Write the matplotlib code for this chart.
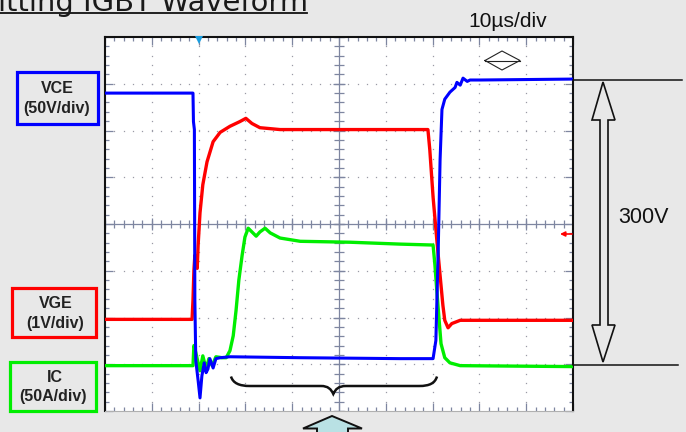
import numpy as np
import matplotlib
matplotlib.use('Agg')
import matplotlib.pyplot as plt
from matplotlib.patches import Polygon, Rectangle, PathPatch
from matplotlib.path import Path

# ---- data: time in µs (10 µs/div), trace position in screen divisions (0 = centre) ----
vce_t = [0, 18.8, 18.9, 19.1, 19.2, 19.4, 19.9, 20.3, 20.7, 21.2, 21.6, 22.0, 22.4, 23.1,
         23.7, 24.6, 26.7, 41.7, 63.0, 70.1, 70.7, 71.2, 71.6, 72.0, 72.6, 73.7, 74.8,
         75.2, 75.9, 76.5, 77.4, 78.0, 80.1, 100]
vce_y = [2.80, 2.80, 2.19, 2.02, -1.63, -2.92, -3.35, -3.72, -3.25, -2.97, -3.18, -3.10,
         -2.88, -3.08, -2.88, -2.86, -2.84, -2.86, -2.88, -2.88, -2.49, -0.56, 1.38, 2.45,
         2.67, 2.82, 2.92, 3.03, 2.97, 3.12, 3.05, 3.08, 3.08, 3.10]

vge_t = [0, 18.6, 18.8, 19.0, 19.2, 19.4, 19.7, 19.9, 20.3, 20.9, 21.8, 23.1, 24.6, 26.7,
         28.8, 30.1, 31.4, 33.1, 37.4, 69.0, 69.4, 70.1, 70.9, 71.6, 72.2, 72.6, 73.3,
         74.1, 75.9, 100]
vge_y = [-2.04, -2.04, -1.63, -0.99, -0.67, -0.82, -0.95, -0.45, 0.24, 0.84, 1.33, 1.76,
         1.96, 2.09, 2.19, 2.26, 2.15, 2.06, 2.02, 2.02, 1.59, 0.58, -0.34, -1.10, -1.74,
         -2.06, -2.22, -2.13, -2.06, -2.06]

ic_t = [0, 18.8, 19.0, 19.4, 19.9, 20.3, 20.9, 21.6, 22.2, 22.9, 23.7, 25.0, 25.9, 26.7,
        27.4, 28.0, 28.6, 29.3, 29.9, 30.6, 31.4, 32.3, 33.1, 34.2, 35.3, 37.4, 41.7, 52.4,
        63.0, 70.1, 70.5, 70.9, 71.4, 71.8, 72.6, 73.7, 75.9, 100]
ic_y = [-3.03, -3.03, -2.60, -2.75, -2.97, -3.14, -2.82, -3.10, -2.88, -3.03, -2.84, -2.86,
        -2.86, -2.71, -2.39, -1.85, -1.20, -0.67, -0.28, -0.09, -0.17, -0.26, -0.17, -0.09,
        -0.19, -0.30, -0.37, -0.39, -0.43, -0.45, -0.88, -1.42, -2.06, -2.56, -2.86, -2.97,
        -3.03, -3.05]

title_text = "itting IGBT Waveform"
timebase_text = "10µs/div"
span_text = "300V"
labels = [("VCE", "(50V/div)"), ("VGE", "(1V/div)"), ("IC", "(50A/div)")]

# ---- figure ----
W, H = 686, 432
BG = '#e8e8e8'
fig = plt.figure(figsize=(W / 100, H / 100), dpi=100, facecolor=BG)
L, R, T, B = 105, 573, 37, 411
ax = fig.add_axes([L / W, 1 - B / H, (R - L) / W, (B - T) / H])
ax.set_facecolor('white')
ax.set_xlim(0, 100)
ax.set_ylim(-4, 4)

gc = '#7e86a0'
# dotted graticule
dots = np.arange(-4, 4.001, 0.2)
hdots = np.arange(0, 100.001, 2)
for xv in range(10, 100, 10):
    if xv != 50:
        ax.plot([xv] * len(dots), dots, ls='none', marker='s', ms=0.9, mew=0,
                color='#9a9aa6', zorder=1)
for yv in range(-3, 4):
    if yv != 0:
        ax.plot(hdots, [yv] * len(hdots), ls='none', marker='s', ms=0.9, mew=0,
                color='#9a9aa6', zorder=1)
# centre cross with ticks
ax.axhline(0, color=gc, lw=0.9, zorder=1)
ax.axvline(50, color=gc, lw=0.9, zorder=1)
ax.plot(hdots, np.zeros_like(hdots), ls='none', marker='|', ms=5.5, mew=0.9, color=gc, zorder=1)
ax.plot(np.arange(0, 101, 10), np.zeros(11), ls='none', marker='|', ms=9, mew=0.9, color=gc, zorder=1)
ax.plot(np.full_like(dots, 50), dots, ls='none', marker='_', ms=7, mew=0.9, color=gc, zorder=1)
ax.plot(np.full(9, 50), np.arange(-4, 5, 1), ls='none', marker='_', ms=9, mew=0.9, color=gc, zorder=1)

# edge ticks
ax.set_xticks(np.arange(0, 101, 10))
ax.set_xticks(np.arange(0, 101, 2), minor=True)
ax.set_yticks(np.arange(-4, 5, 1))
ax.set_yticks(np.arange(-4, 4.001, 0.2), minor=True)
ax.tick_params(which='both', direction='in', top=True, bottom=True, left=True, right=True,
               labelbottom=False, labelleft=False, color=gc, width=0.9)
ax.tick_params(which='major', length=6)
ax.tick_params(which='minor', length=3)
for s in ('left', 'top', 'right'):
    ax.spines[s].set_color('#111111')
    ax.spines[s].set_linewidth(1.5)
ax.spines['bottom'].set_color('#b0b0b0')
ax.spines['bottom'].set_linewidth(0.8)

# traces
ax.plot(ic_t, ic_y, color='#00ee00', lw=2.4, zorder=3)
ax.plot(vge_t, vge_y, color='#ff0000', lw=2.4, zorder=4)
ax.plot(vce_t, vce_y, color='#0000ff', lw=2.2, zorder=5)

# ---- overlay annotations in pixel coordinates ----
ov = fig.add_axes([0, 0, 1, 1], zorder=10)
ov.set_xlim(0, W)
ov.set_ylim(H, 0)
ov.axis('off')
ov.patch.set_alpha(0)

ov.text(-2, 11, title_text, family='DejaVu Sans', fontsize=20.9, va='baseline',
        ha='left', color='#1a1a1a')
ov.plot([0, 307], [12.9, 12.9], color='#111111', lw=1.3)

ov.text(507.5, 26.7, timebase_text, family='Liberation Sans', fontsize=15.1,
        ha='center', va='baseline', color='#111111')
ov.plot([485, 502, 520, 502, 485], [60.5, 51, 60.5, 70, 60.5], color='#222222', lw=0.8)
ov.plot([485, 520], [60.5, 60.5], color='#222222', lw=0.8)

# 300 V span marker
ov.plot([573, 682], [79.5, 79.5], color='#111111', lw=1.1)
ov.plot([573, 678], [365, 365], color='#111111', lw=1.1)
arrow_pts = [(603, 82), (615, 120), (608, 120), (608, 325), (615, 325), (603, 362),
             (592, 325), (600, 325), (600, 120), (592, 120)]
ov.add_patch(Polygon(arrow_pts, closed=True, fill=False, ec='#111111', lw=1.2))
ov.text(643.5, 223, span_text, family='Liberation Sans', fontsize=15.5,
        ha='center', va='baseline', color='#111111')

# channel label boxes
box_specs = [((16.5, 71.5, 81, 52), '#0000ff', 57, 93.3, 57, 113.3),
             ((11.5, 287.5, 84, 49), '#ff0000', 55.5, 307.7, 55, 328.3),
             ((10, 361.5, 85.5, 49), '#00ee00', 54.5, 381.7, 53.5, 400.7)]
for (bx, col, x1, y1, x2, y2), (l1, l2) in zip(box_specs, labels):
    ov.add_patch(Rectangle((bx[0], bx[1]), bx[2], bx[3], fill=False, ec=col, lw=2.3))
    ov.text(x1, y1, l1, family='Liberation Sans', fontweight='bold', fontsize=11.5,
            ha='center', va='baseline', color='#222222')
    ov.text(x2, y2, l2, family='Liberation Sans', fontweight='bold', fontsize=11.5,
            ha='center', va='baseline', color='#222222')

# curly brace
verts = [(231, 376.5), (233, 383), (239, 386), (250, 386), (321, 386),
         (328, 386), (331, 389), (333.3, 394),
         (335.6, 389), (338.6, 386), (346, 386), (419, 386),
         (430, 386), (435, 383), (437, 376.5)]
codes = [Path.MOVETO, Path.CURVE4, Path.CURVE4, Path.CURVE4, Path.LINETO,
         Path.CURVE4, Path.CURVE4, Path.CURVE4,
         Path.CURVE4, Path.CURVE4, Path.CURVE4, Path.LINETO,
         Path.CURVE4, Path.CURVE4, Path.CURVE4]
ov.add_patch(PathPatch(Path(verts, codes), fill=False, ec='#111111', lw=1.8))

# bottom arrow
ov.add_patch(Polygon([(332, 416), (362, 428.5), (348, 428.5), (348, 445), (317, 445),
                      (317, 428.5), (303, 428.5)], closed=True, fc='#b9e1e4',
                     ec='#111111', lw=1.4))

# scope markers
ov.annotate('', xy=(560, 234), xytext=(572, 234),
            arrowprops=dict(arrowstyle='-|>', color='#ff0000', lw=1.2,
                            mutation_scale=7, shrinkA=0, shrinkB=0))
ov.plot([199], [39.5], marker='v', ms=5.5, mew=0, color='#1a9ee0')

fig.savefig('out.png', dpi=100, facecolor=BG)
